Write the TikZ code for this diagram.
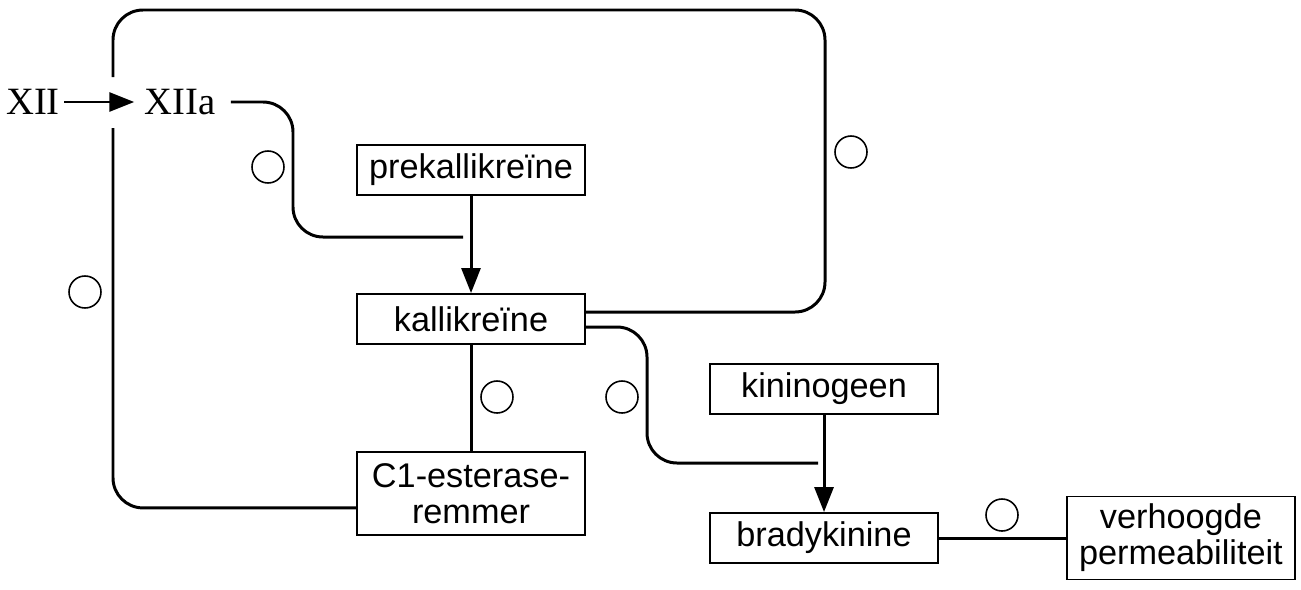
\documentclass[tikz,border=0pt]{standalone}
\usepackage{fontspec}
\setmainfont{Liberation Sans}
\newfontfamily\timesfont{Liberation Serif}
\usetikzlibrary{positioning}
\usetikzlibrary{arrows.meta}

\begin{document}
\begin{tikzpicture}[x=0.02cm, y=-0.02cm,
    box/.style={draw, line width=1.1pt, minimum width=4.55cm, minimum height=1cm, inner sep=0pt, font=\fontsize{19.5}{20.5}\selectfont, align=center},
    tall/.style={box, minimum height=1.66cm},
    factor/.style={inner sep=0.08cm, font=\timesfont\fontsize{22}{26}\selectfont},
    link/.style={line width=1.7pt, rounded corners=0.6cm},
    arr/.style={line width=1.7pt, -{Triangle[length=0.5cm, width=0.38cm]}},
    blank/.style={draw, circle, line width=0.9pt, minimum size=0.64cm, inner sep=0pt}]
      \useasboundingbox (0,0) rectangle (1301,589);
      \node(kalli) [box] at (471,319) {kallikreïne};
      \node(prek) [box, above=1.94cm of kalli] {prekallikreïne};
      \node(c1) [tall, below=2.12cm of kalli] {C1-esterase-\\remmer};
      \node(brady) [box] at (824,538) {bradykinine};
      \node(kinin) [box, above=1.94cm of brady] {kininogeen};
      \node(perm) [tall, right=2.55cm of brady] {verhoogde\\permeabiliteit};
      \node(xii) [factor] at (33,102) {XII};
      \node(xiia) [factor] at (180,102) {XIIa};

      \node(oxiia) [blank] at (268,167) {};
      \node(oloop) [blank] at (85,292) {};
      \node(oright) [blank] at (851,152) {};
      \node(oc1) [blank] at (497,397) {};
      \node(okalli) [blank] at (622,397) {};
      \node(operm) [blank] at (1002,515) {};

      \coordinate(gaptop) at (113,77);
      \coordinate(gapbot) at (113,128);
      \coordinate(xiiaend) at (463,237);
      \coordinate(kalliend) at (818,463);

      \draw[arr, shorten >=0.12cm] (xii) -- (xiia);
      \draw[arr] (prek) -- (kalli);
      \draw[arr] (kinin) -- (brady);
      \draw[line width=1.7pt] (kalli) -- (c1);
      \draw[line width=1.7pt] (brady) -- (perm);
      \draw[link] ([yshift=0.14cm]kalli.east) -| (825,10) -| (gaptop);
      \draw[link] (gapbot) |- ([yshift=-0.29cm]c1.west);
      \draw[link] ([xshift=0.22cm]xiia.east) -| (293,237) -- (xiiaend);
      \draw[link] ([yshift=-0.16cm]kalli.east) -| (647,463) -- (kalliend);
    \end{tikzpicture}
\end{document}
